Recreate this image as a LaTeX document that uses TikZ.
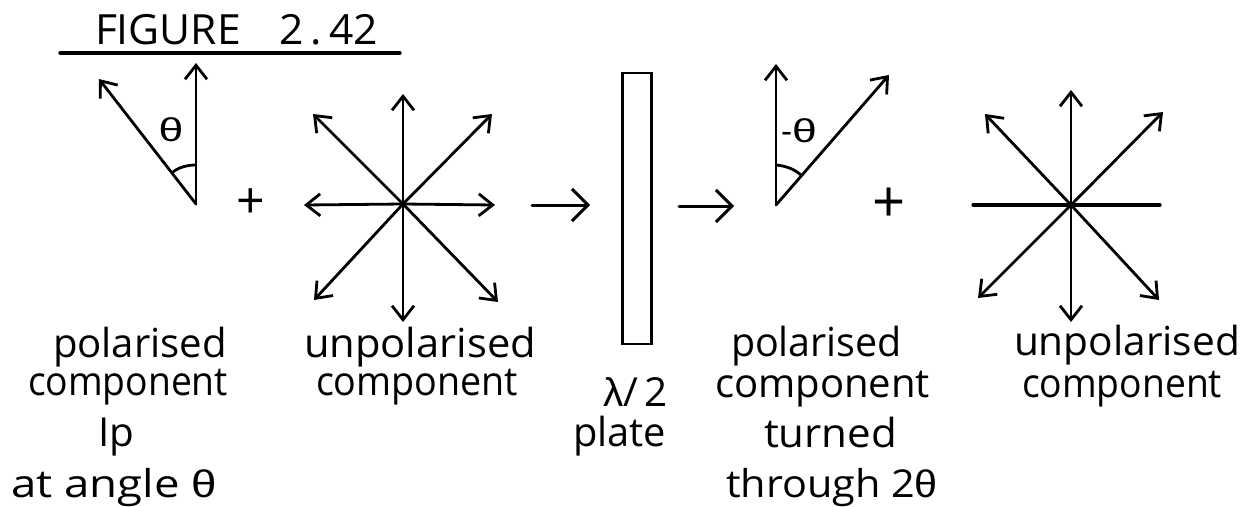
\documentclass[tikz,border=0pt]{standalone}
\usepackage{fontspec}
\usepackage{graphicx}
\setmainfont{Open Sans}
\newfontfamily\grk{Liberation Sans}
\usetikzlibrary{arrows.meta}
\newcommand{\fitlbl}[3]{\resizebox{#1pt}{#2\height}{#3}}
\newcommand{\widetheta}{\scalebox{1.35}[1]{θ}}
\tikzset{
  ray/.style={line width=2.8pt,line cap=round,-{Straight Barb[length=14pt,width=22pt,line width=2.8pt]}},
  flow/.style={line width=3pt,line cap=round,-{Straight Barb[length=16pt,width=32pt,line width=3pt]}},
  bar/.style={line width=3.2pt,line cap=round},
  lbl/.style={anchor=base west,inner sep=0pt,outer sep=0pt,font=\fontsize{32}{36}\selectfont},
  plate/.style={draw,line width=2.8pt,inner sep=0pt,minimum width=29pt,minimum height=271pt},
  arcline/.style={line width=2.8pt},
  ang/.style={inner sep=0pt,font=\grk\fontsize{33}{36}\selectfont}
}
\begin{document}
\begin{tikzpicture}[x=1pt,y=-1pt]
\useasboundingbox (0,0) rectangle (1247,506);
% title
\node[lbl] (title) at (95,45) {\fitlbl{283}{1.3}{FIGURE\hspace{0.9em}2\,.\,42}};
\coordinate (ulL) at (60,53); \coordinate (ulR) at (400,53);
\draw[bar] (ulL) -- (ulR);
% polarised 1
\coordinate (p1) at (196,204); \coordinate (p1u) at (196,63); \coordinate (p1l) at (99,79);
\draw[ray] (p1) -- (p1u); \draw[ray] (p1) -- (p1l);
\coordinate (a1s) at (173,172); \coordinate (a1e) at (196,165);
\draw[arcline] (a1s) .. controls (179,167) and (188,165) .. (a1e);
\node[ang] (th1) at (171,130) {\widetheta};
\node[inner sep=0pt,font=\fontsize{50}{50}\selectfont] (plus1) at (251,204) {+};
% star 1
\coordinate (s1) at (403,204);
\coordinate (s1a) at (403,94); \coordinate (s1b) at (492,114); \coordinate (s1c) at (495,205);
\coordinate (s1d) at (498,302); \coordinate (s1e) at (403,322); \coordinate (s1f) at (314,300);
\coordinate (s1g) at (304,205); \coordinate (s1h) at (313,114);
\foreach \t in {s1a,s1b,s1c,s1d,s1e,s1f,s1g,s1h} \draw[ray] (s1) -- (\t);
% arrows and plate
\coordinate (i1) at (532,205); \coordinate (i2) at (590,205);
\draw[flow] (i1) -- (i2);
\node[plate] (wp) at (637,208.5) {};
\coordinate (o1) at (679,206); \coordinate (o2) at (734,206);
\draw[flow] (o1) -- (o2);
% polarised 2
\coordinate (p2) at (776,205); \coordinate (p2u) at (776,64); \coordinate (p2r) at (889,75);
\draw[ray] (p2) -- (p2u); \draw[ray] (p2) -- (p2r);
\coordinate (a2s) at (776,165); \coordinate (a2e) at (802,176);
\draw[arcline] (a2s) .. controls (787,166) and (796,170) .. (a2e);
\node[ang,anchor=base west] (th2) at (781,142) {-\widetheta};
\node[inner sep=0pt,font=\fontsize{58}{58}\selectfont] (plus2) at (889,205) {+};
% star 2
\coordinate (s2) at (1071,205);
\coordinate (s2l) at (973,205); \coordinate (s2r) at (1160,205);
\draw[bar] (s2l) -- (s2r);
\coordinate (s2a) at (1071,90); \coordinate (s2b) at (1163,112); \coordinate (s2d) at (1159,300);
\coordinate (s2e) at (1071,322); \coordinate (s2f) at (978,298); \coordinate (s2h) at (985,114);
\foreach \t in {s2a,s2b,s2d,s2e,s2f,s2h} \draw[ray] (s2) -- (\t);
% captions
\node[lbl] (t1) at (53,357) {\fitlbl{174}{1.25}{polarised}};
\node[lbl] (t2) at (28,395) {\fitlbl{200}{1.25}{component}};
\node[lbl] (t3) at (98,446) {\fitlbl{36}{1.25}{Ip}};
\node[lbl] (t4) at (11,497) {\fitlbl{206}{1.2}{at angle {\grk θ}}};
\node[lbl] (t5) at (304,357) {\fitlbl{232}{1.25}{unpolarised}};
\node[lbl] (t6) at (316,395) {\fitlbl{202}{1.25}{component}};
\node[lbl] (t7) at (603,406) {\fitlbl{65}{1.25}{{\grk λ}/\,2}};
\node[lbl] (t8) at (573,446) {\fitlbl{93}{1.25}{plate}};
\node[lbl] (t9) at (731,356) {\fitlbl{171}{1.25}{polarised}};
\node[lbl] (t10) at (715,397) {\fitlbl{215}{1.25}{component}};
\node[lbl] (t11) at (764,447) {\fitlbl{133}{1.25}{turned}};
\node[lbl] (t12) at (726,497) {\fitlbl{212}{1.2}{through 2{\grk θ}}};
\node[lbl] (t13) at (1014,355) {\fitlbl{226}{1.25}{unpolarised}};
\node[lbl] (t14) at (1022,397) {\fitlbl{200}{1.25}{component}};
\end{tikzpicture}
\end{document}
